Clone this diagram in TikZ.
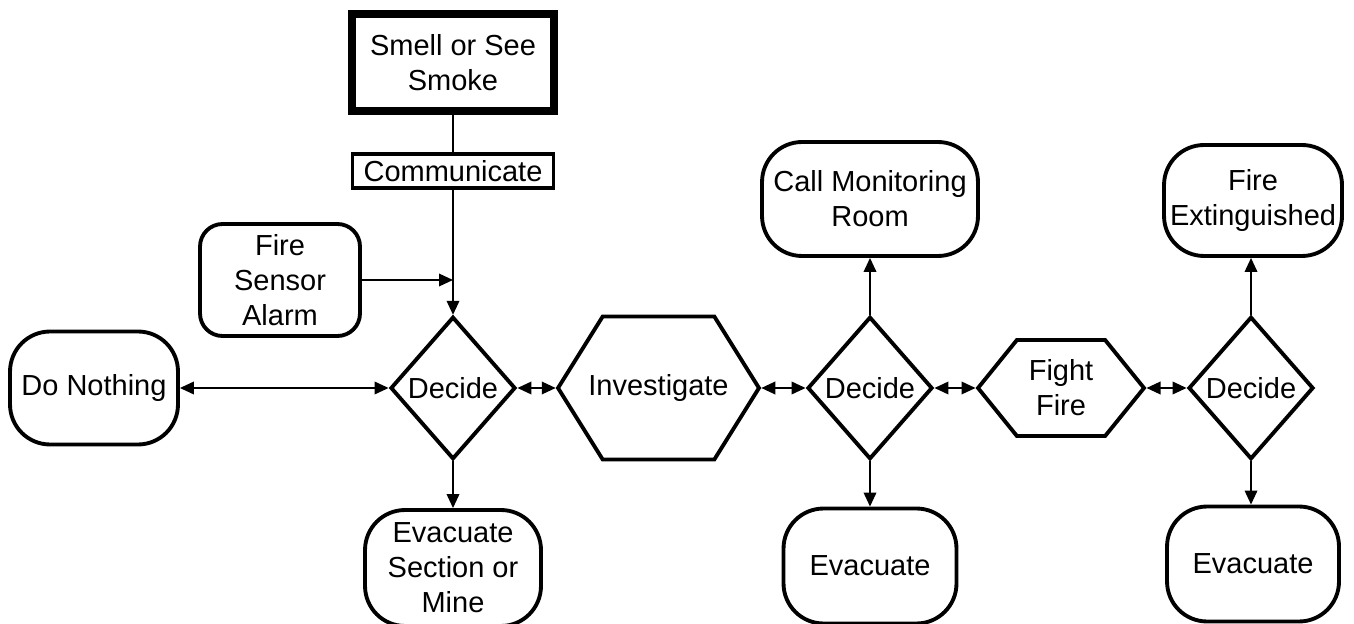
\documentclass[tikz,border=0pt]{standalone}
\usepackage{fontspec}
\setmainfont{Liberation Sans}
\usetikzlibrary{arrows.meta,shapes.geometric,shapes.symbols}
\tikzset{%
  >={Triangle[width=2.5mm,length=2.8mm]},
  % Specifications for style of nodes:
          base/.style = {draw=black, line width=2.2pt, inner sep=0pt,
                         align=center, font=\fontsize{16.5}{20}\selectfont},
           box/.style = {base, rectangle},
          term/.style = {base, rectangle, rounded corners=0.8cm},
      decision/.style = {base, diamond, minimum width=2.5cm, minimum height=2.85cm},
       process/.style = {base, signal, signal to=east and west},
          link/.style = {line width=1.1pt},
}

\begin{document}
\begin{tikzpicture}[x=0.02cm, y=-0.02cm]
  \useasboundingbox (0,0) rectangle (1354,624);

  \node (smoke)    [box, line width=4.5pt, minimum width=4.04cm, minimum height=1.94cm] at (453,62.5) {Smell or See\\ Smoke};
  \node (comm)     [box, minimum width=4.02cm, minimum height=0.68cm] at (453,171) {Communicate};
  \node (sensor)   [term, rounded corners=0.45cm, minimum width=3.2cm, minimum height=2.24cm] at (280,280) {Fire\\ Sensor\\ Alarm};
  \node (nothing)  [term, minimum width=3.36cm, minimum height=2.26cm] at (94,388) {Do Nothing};
  \node (decide1)  [decision] at (453,388) {Decide};
  \node (evac1)    [term, minimum width=3.52cm, minimum height=2.32cm] at (453,568) {Evacuate\\ Section or\\ Mine};

  \node (invest)   [process, signal pointer angle=116, minimum width=4.02cm, minimum height=2.86cm] at (658.5,388) {\makebox[2cm]{Investigate}};
  \node (decide2)  [decision] at (870,388) {Decide};
  \node (callroom) [term, minimum width=4.32cm, minimum height=2.28cm] at (870,199) {Call Monitoring\\ Room};
  \node (evac2)    [term, minimum width=3.46cm, minimum height=2.3cm] at (870,566) {Evacuate};

  \node (fight)    [process, signal pointer angle=102, minimum width=3.32cm, minimum height=1.92cm] at (1061,388) {Fight\\ Fire};
  \node (decide3)  [decision] at (1251,388) {Decide};
  \node (extinct)  [term, minimum width=3.56cm, minimum height=2.22cm] at (1253,200.5) {Fire\\ Extinguished};
  \node (evac3)    [term, minimum width=3.44cm, minimum height=2.3cm] at (1253,564) {Evacuate};

  \draw[link]    (smoke)   -- (comm);
  \draw[link,->] (comm)    -- (decide1);
  \draw[link,->] (sensor.east) -- (sensor.east -| decide1.north);

  \draw[link,<->] (nothing) -- (decide1);
  \draw[link,<->] (decide1) -- (invest);
  \draw[link,<->] (invest)  -- (decide2);
  \draw[link,<->] (decide2) -- (fight);
  \draw[link,<->] (fight)   -- (decide3);

  \draw[link,->] (decide1) -- (evac1);
  \draw[link,->] (decide2) -- (callroom);
  \draw[link,->] (decide2) -- (evac2);
  \draw[link,->] (decide3.north) -- (decide3.north |- extinct.south);
  \draw[link,->] (decide3.south) -- (decide3.south |- evac3.north);

\end{tikzpicture}
\end{document}
